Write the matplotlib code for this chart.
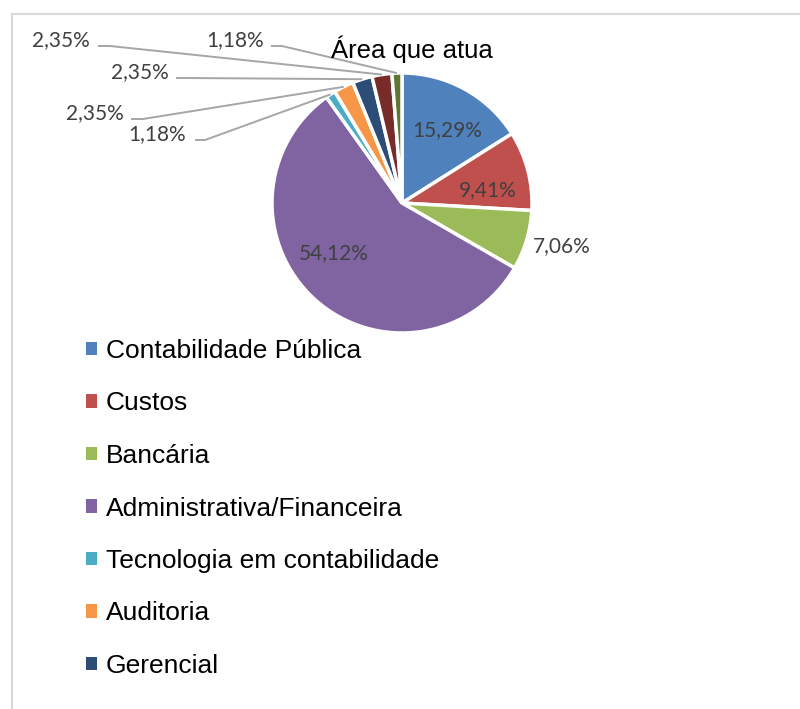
import math
import matplotlib.pyplot as plt
from matplotlib.patches import Patch
from matplotlib.lines import Line2D

categories = ['Contabilidade Pública', 'Custos', 'Bancária', 'Administrativa/Financeira',
              'Tecnologia em contabilidade', 'Auditoria', 'Gerencial', 'Outra 1', 'Outra 2']
values = [15.29, 9.41, 7.06, 54.12, 1.18, 2.35, 2.35, 2.35, 1.18]
colors = ['#4F81BD', '#C0504D', '#9BBB59', '#8064A2', '#4BACC6',
          '#F79646', '#2C4D75', '#772C2A', '#5F7530']
n_legend = 7  # only the first seven fit in the legend box

W, H = 800, 709
fig = plt.figure(figsize=(W / 100, H / 100), dpi=100)
ax = fig.add_axes([0, 0, 1, 1])

def py(y):
    # pixel row (from top) -> data y
    return H - y

cx, cy, R = 402, py(203), 130
wedges, _ = ax.pie(values, colors=colors, startangle=90, counterclock=False,
                   center=(cx, cy), radius=R,
                   wedgeprops=dict(edgecolor='white', linewidth=2.5))
ax.set_xlim(0, W)
ax.set_ylim(0, H)
ax.set_aspect('equal')
ax.set_axis_off()

fmt = [f"{v:.2f}".replace('.', ',') + '%' for v in values]
lab_font = dict(family='Lato', fontsize=15, color='#404040')

# labels inside / beside the big slices
big_pos = {0: (447, 130), 1: (488, 190), 2: (562, 246), 3: (334, 253)}
for i, (x, y) in big_pos.items():
    ax.text(x, py(y), fmt[i], ha='center', va='center', **lab_font)

# small slices: label text + leader line to the wedge edge
small_pos = {4: (186, 134, 195, 205), 5: (124, 113, 131, 143),
             6: (169, 72, 176, 186), 7: (90, 40, 98, 110), 8: (264, 40, 271, 282)}
for i, (tx, ty, lx0, lx1) in small_pos.items():
    w = wedges[i]
    a = math.radians((w.theta1 + w.theta2) / 2)
    ex, ey = cx + R * math.cos(a), cy + R * math.sin(a)
    ly = py(ty + 6)
    ax.plot([lx0, lx1, ex], [ly, ly, ey], color='#A6A6A6', lw=1.4,
            solid_capstyle='butt')
    ax.text(tx, py(ty), fmt[i], ha='right', va='center', **lab_font)

ax.text(412, py(58), 'Área que atua', ha='center', va='baseline',
        family='Liberation Sans', fontsize=18.5, color='black')

handles = [Patch(facecolor=c, edgecolor='none') for c in colors[:n_legend]]
leg = fig.legend(handles, categories[:n_legend], loc='upper left',
                 bbox_to_anchor=(86 / W, 1 - 339 / H), frameon=False,
                 prop=dict(family='Liberation Sans', size=19),
                 handlelength=0.4, handleheight=0.4, handletextpad=0.35,
                 labelspacing=1.08, borderpad=0, borderaxespad=0)

# chart area border (light gray, left and top edges visible)
fig.add_artist(Line2D([11.5 / W, 11.5 / W], [0, 1 - 14 / H], color='#D9D9D9', lw=1.5))
fig.add_artist(Line2D([11.5 / W, 1], [1 - 14 / H, 1 - 14 / H], color='#D9D9D9', lw=1.5))

fig.savefig('out.png', dpi=100, facecolor='white')
